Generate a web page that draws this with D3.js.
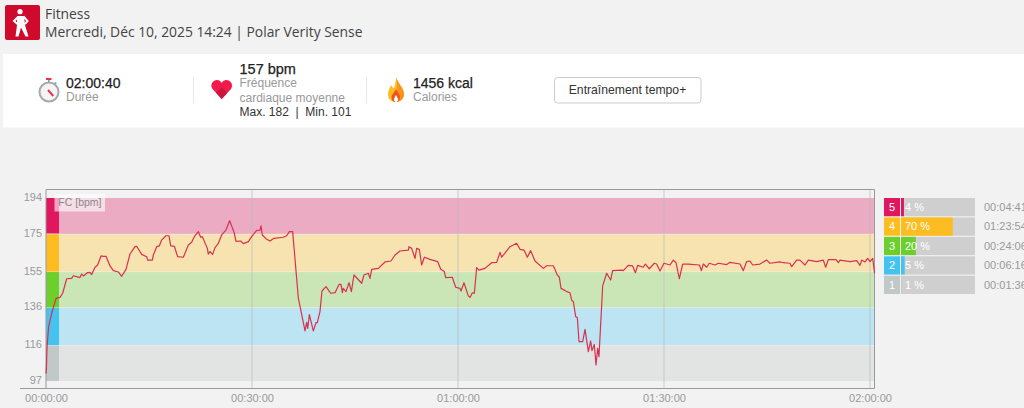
<!DOCTYPE html>
<html lang="fr">
<head>
  <meta charset="UTF-8">
  <title>Fitness</title>
  <script src="https://cdn.jsdelivr.net/npm/d3@7"></script>
  <style>
    html,body {
      margin: 0;
      padding: 0;
      background: #f2f2f2;
      overflow: hidden;
    }
    svg { display: block; }
    text { font-family: "Liberation Sans", Arial, sans-serif; }
    .head { font-family: "Open Sans", sans-serif; font-size: 13.85px; fill: #444; }
    .big { font-size: 14px; fill: #222; stroke: #222; stroke-width: .25px; }
    .bigger { font-size: 14.5px; fill: #222; stroke: #222; stroke-width: .25px; }
    .sub { font-size: 12px; fill: #999; }
    .axis text { font-size: 11px; fill: #999; }
    .axis path, .axis line { display: none; }
  </style>
</head>
<body>
  <div id="stage"></div>
  <script>
    // heart rate, minutes since start / bpm
    const minutes = [0, 0.05, 0.15, 0.39, 0.83, 1.46, 2.04, 2.43, 3.01, 3.74, 3.98, 4.71, 4.95, 5.19, 5.44, 6.02, 6.41, 6.65, 7.14, 7.52, 8.01, 8.35, 8.74, 9.32, 9.81, 10.53, 11.02, 11.65, 12.23, 12.96, 13.2, 13.93, 14.66, 14.81, 15.49, 15.63, 16.12, 16.5, 16.84, 17.48, 17.91, 18.16, 18.69, 19.17, 20, 20.73, 21.21, 21.6, 22.18, 22.52, 22.77, 23.5, 23.64, 23.88, 24.27, 24.61, 25.1, 25.58, 26.21, 26.75, 27.43, 27.67, 28.35, 28.74, 29.47, 29.95, 30.68, 31.17, 31.31, 31.5, 32.14, 32.62, 33.2, 34.56, 35.05, 35.44, 35.92,
      36.75, 37.72, 37.96, 38.11, 38.35, 38.93, 39.32, 39.51, 39.9, 40.19, 40.78, 41.46, 42.09, 42.67, 42.96, 43.16, 43.3, 43.69, 44.13, 44.47, 44.85, 45.97, 46.31, 46.94, 47.18, 47.43, 48.4, 49.37, 50.24, 50.83, 51.55, 52.77, 52.86, 53.25, 53.74, 53.98, 54.37, 54.71, 55.1, 55.92, 57.04, 57.48, 58.01, 58.2, 59.17, 59.66, 60.29, 60.44, 60.87, 61.5, 61.75, 62.09, 62.38, 62.72, 63.06, 63.93, 64.9, 65.63, 66.12, 66.36, 67.57, 68.54, 69.03, 69.61, 70.1, 70.58, 71.21, 72.43, 72.91, 73.88, 74.47, 74.76, 75, 75.83, 76.31, 76.55, 76.8, 77.14, 77.38, 77.62,
      78.16, 78.5, 78.98, 79.32, 79.51, 79.85, 80.1, 80.34, 80.53, 81.07, 81.65, 82.23, 82.52, 83.83, 84.08, 84.8, 85.44, 85.83, 86.17, 86.98, 87.28, 87.86, 88.59, 88.93, 89.42, 90, 90.87, 91.36, 91.75, 92.23, 92.72, 93.54, 95.15, 95.44, 95.73, 96.21, 96.6, 97.43, 97.91, 99.13, 99.61, 101.07, 101.55, 102.04, 102.52, 102.91, 103.97, 104.95, 105.44, 106.89, 107.37, 108.34, 108.59, 109.32, 109.8, 110.53, 111.02, 112.23, 113.2, 113.54, 113.93, 115.05, 115.39, 115.63, 117.09, 118.06, 118.54, 118.79, 119.27, 119.66, 120, 120.39, 120.67];
    const bpm = [101, 102.8, 115.2, 125.8, 132.9, 140.8, 141.3, 143.5, 151.2, 151.4, 152.8, 152.1, 151.8, 153.7, 152.7, 154.4, 154.6, 153.4, 157.3, 158.5, 163.3, 163.1, 163.1, 158, 155.5, 154.8, 152.5, 156.2, 164.3, 168.2, 168.4, 164.1, 162.9, 161.1, 161.1, 163.8, 168.2, 168.6, 171.7, 174, 174, 168.6, 168.4, 162.9, 162.6, 169.1, 170.5, 173.5, 176.2, 173.2, 173.5, 167.3, 164.3, 165.6, 164.1, 167.7, 170, 174.4, 177, 182, 175.3, 171, 171.2, 169.8, 170.9, 173.5, 176.9, 177, 179.2, 174.4, 172.1, 171.2, 172.6, 173.2, 174, 176.2, 176.2,
      140.9, 123.6, 128.1, 124.9, 132.2, 123.6, 127.9, 127.9, 133.8, 144.7, 147, 143.5, 143.8, 148.2, 148.2, 143.8, 146.1, 144.4, 149.1, 144.4, 153.2, 148.8, 153.2, 154.1, 151.4, 156.2, 156.7, 160.1, 160.6, 163.8, 165.9, 166.4, 168.2, 167.3, 162, 167.3, 166.8, 158.5, 162.6, 161.5, 160.3, 156.2, 155, 151.8, 152, 146.7, 146.1, 144.7, 149.1, 142.1, 141.3, 143.8, 143.5, 157.1, 155.8, 156.7, 159.7, 159.9, 165.2, 162.6, 168.2, 170, 166.8, 166.4, 162.6, 166.1, 160.6, 156.7, 158.1, 158.1, 153.2, 152, 146.1, 144.4, 143.8, 139.9, 139, 131.1, 130.7, 117.9,
      117.9, 124.4, 112.6, 118.2, 113.1, 116.3, 105.5, 114.3, 109.9, 147.4, 154.1, 150.5, 155.5, 155.8, 155.5, 158.3, 158, 154.4, 158.3, 157.3, 159, 156.5, 159.4, 159, 155.3, 159.4, 158.5, 161.1, 159.7, 151.2, 159, 159, 158.5, 155.5, 159, 157.3, 159.4, 158.5, 159.4, 158.7, 159.9, 159, 155.5, 160.3, 160.6, 158.5, 159, 161.1, 159.4, 160.1, 159.7, 159.4, 157.6, 161.1, 161.1, 158.5, 161.1, 160.3, 161.1, 157.3, 161.3, 161.3, 159.7, 161.1, 160.3, 160.8, 158.3, 161.1, 160.1, 162, 160.3, 162, 154.1];

    const zoneTicks = [194, 175, 155, 136, 116, 97];
    const timeTicks = [0, 30, 60, 90, 120];
    const timeLabels = ['00:00:00', '00:30:00', '01:00:00', '01:30:00', '02:00:00'];

    const zoneNames = ['5', '4', '3', '2', '1'];
    const zonePercent = [4, 70, 20, 5, 1];
    const zoneTimes = ['00:04:41', '01:23:54', '00:24:06', '00:06:16', '00:01:36'];
    const zoneColors = ['#e0175f', '#fdbd21', '#6dcf2b', '#45c3f0', '#c0c8c8'];
    const zoneBands = ['#ebabc3', '#f6e3b0', '#cae6b6', '#bce4f2', '#e2e4e3'];

    const svg = d3.select('#stage').append('svg').attr('width', 1024).attr('height', 408);

    const x = d3.scaleLinear().domain([0, 120]).range([46, 870]);
    const y = d3.scaleLinear().domain([97, 194]).range([381, 198]);
    const plotLeft = 46, plotRight = 874.5, plotTop = 189.5, plotBottom = 388.5;

    // header
    svg.append('rect').attr('x', 5).attr('y', 5).attr('width', 35).attr('height', 35).attr('rx', 2).attr('fill', '#cf0a2c');
    const man = svg.append('g').attr('fill', '#fff');
    man.append('circle').attr('cx', 20).attr('cy', 11.7).attr('r', 2.6);
    man.append('path').attr('d', 'M17 16 L24 16 L25 25 L28.5 36.5 L25.5 36.5 L21 27.5 L18.5 36.5 L15.5 36.5 L17 25 Z');
    man.append('path').attr('fill', 'none').attr('stroke', '#fff').attr('stroke-width', 2).attr('d', 'M18 17 L14 21 L17.5 24 M23.5 16.5 L27.5 21 L25 24');
    svg.append('text').attr('class', 'head').attr('x', 45).attr('y', 19).text('Fitness');
    svg.append('text').attr('class', 'head').attr('x', 45).attr('y', 37).text('Mercredi, Déc 10, 2025 14:24 | Polar Verity Sense');

    // summary panel
    svg.append('rect').attr('x', 3).attr('y', 54).attr('width', 1021).attr('height', 73.5).attr('fill', '#fff');
    [193, 366].forEach(d => {
      svg.append('line').attr('x1', d + .5).attr('x2', d + .5).attr('y1', 77).attr('y2', 103).attr('stroke', '#e6e6e6');
    });

    // stopwatch
    const watch = svg.append('g');
    watch.append('circle').attr('cx', 49).attr('cy', 92).attr('r', 9.5).attr('fill', '#f4f4f4').attr('stroke', '#a8a8a8').attr('stroke-width', 2);
    watch.append('rect').attr('x', 46).attr('y', 78).attr('width', 5.5).attr('height', 2).attr('fill', '#e8334f');
    watch.append('rect').attr('x', 48).attr('y', 80).attr('width', 1.6).attr('height', 2).attr('fill', '#999');
    watch.append('circle').attr('cx', 55.5).attr('cy', 83).attr('r', 1.1).attr('fill', '#45b5e8');
    watch.append('path').attr('d', 'M48 90 L53.3 96').attr('stroke', '#e8334f').attr('stroke-width', 2);

    // heart
    svg.append('path').attr('fill', '#f2194b').attr('d', 'M221.7 99 L212.5 89 C209.5 84.5 213 80 217 80 C219 80 220.8 81 221.7 83 C222.6 81 224.4 80 226.4 80 C230.4 80 233.9 84.5 231 89 Z');
    svg.append('path').attr('fill', '#c8163f').attr('d', 'M221.7 99 L216 92.8 L221.7 87.5 L227.4 92.8 Z');

    // flame
    svg.append('path').attr('fill', '#fdbd21').attr('d', 'M396 77 C398 84 404 88 404 94 C404 99 400 102 396 102 C391 102 388 99 388 94 C388 90 390 88 391 85 C392 87 393 88 394 88 C395 85 396 81 396 77 Z');
    svg.append('path').attr('fill', '#fb921f').attr('d', 'M396 77 C398 84 404 88 404 94 C404 99 400 102 396 102 C397 95 398 85 396 77 Z');
    svg.append('path').attr('fill', '#f1531f').attr('d', 'M396 89 C397 92 400 94 400 97 C400 100 398 102 396 102 C393 102 391.5 100 391.5 97.5 C391.5 95 394 93 396 89 Z');
    svg.append('path').attr('fill', '#fff').attr('d', 'M396 95 C397 97 398 98 398 99.5 C398 101 397 102 396 102 C395 102 394 101 394 99.5 C394 98 395 97 396 95 Z');

    function stat(xPos, lines) {
      lines.forEach(d => {
        svg.append('text').attr('class', d[2]).attr('x', xPos).attr('y', d[1]).text(d[0]);
      });
    }
    stat(66, [['02:00:40', 88, 'big'], ['Durée', 101, 'sub']]);
    stat(239.5, [['157 bpm', 74, 'bigger'], ['Fréquence', 87, 'sub'], ['cardiaque moyenne', 102, 'sub'], ['Max. 182  |  Min. 101', 116, 'max']]);
    stat(413, [['1456 kcal', 88, 'big'], ['Calories', 101, 'sub']]);
    svg.selectAll('.max').attr('font-size', 12).attr('fill', '#333').style('white-space', 'pre');

    svg.append('rect').attr('x', 554.5).attr('y', 77.5).attr('width', 146.5).attr('height', 25.5).attr('rx', 3).attr('fill', '#fff').attr('stroke', '#ccc');
    svg.append('text').attr('x', 627.5).attr('y', 94).attr('text-anchor', 'middle').attr('font-size', 12.2).attr('fill', '#333').text('Entraînement tempo+');

    // zone bands, drawn from the tick values
    svg.selectAll('.band').data(zoneBands).join('rect')
      .attr('x', plotLeft)
      .attr('width', plotRight - plotLeft)
      .attr('y', (d, i) => y(zoneTicks[i]) + (i ? .5 : 0))
      .attr('height', (d, i) => y(zoneTicks[i + 1]) - y(zoneTicks[i]) - (i ? .5 : 0))
      .attr('fill', d => d);
    svg.selectAll('.strip').data(zoneColors).join('rect')
      .attr('x', plotLeft)
      .attr('width', 13)
      .attr('y', (d, i) => y(zoneTicks[i]) + (i ? .5 : 0))
      .attr('height', (d, i) => y(zoneTicks[i + 1]) - y(zoneTicks[i]) - .5)
      .attr('fill', d => d);

    // gridlines
    svg.selectAll('.grid').data(timeTicks.slice(1)).join('line')
      .attr('x1', d => x(d)).attr('x2', d => x(d))
      .attr('y1', plotTop).attr('y2', plotBottom)
      .attr('stroke', '#bbb').attr('stroke-opacity', .35).attr('stroke-width', 2);

    // frame
    svg.append('path').attr('fill', 'none').attr('stroke', '#999')
      .attr('d', `M${plotLeft} ${plotBottom} V${plotTop} H${plotRight} V${plotBottom}`);
    svg.append('line').attr('x1', 20).attr('x2', plotRight).attr('y1', plotBottom).attr('y2', plotBottom).attr('stroke', '#999');

    // FC label
    svg.append('rect').attr('x', 54.5).attr('y', 194).attr('width', 50.5).attr('height', 17.5).attr('fill', '#fff').attr('fill-opacity', .6);
    svg.append('text').attr('x', 58.3).attr('y', 206).attr('font-size', 10.5).attr('fill', '#888').text('FC [bpm]');

    // axes
    svg.append('g').attr('class', 'axis').attr('transform', `translate(0,${plotBottom})`)
      .call(d3.axisBottom(x).tickValues(timeTicks).tickFormat((d, i) => timeLabels[i]).tickSize(0).tickPadding(6));
    svg.append('g').attr('class', 'axis').attr('transform', `translate(${plotLeft},-1)`)
      .call(d3.axisLeft(y).tickValues(zoneTicks).tickSize(0).tickPadding(4));

    // heart rate line
    const line = d3.line().x((d, i) => x(minutes[i])).y(d => y(d));
    svg.append('path').datum(bpm).attr('d', line).attr('fill', 'none').attr('stroke', '#d9304f').attr('stroke-width', 1.2).attr('stroke-linejoin', 'round');

    // zone legend
    const rowY = d3.scaleBand().domain(zoneNames).range([198, 294]).paddingInner(.06);
    const pct = d3.scaleLinear().domain([0, 100]).range([0, 74]);
    const rows = svg.selectAll('.row').data(zoneNames).join('g').attr('transform', d => `translate(0,${rowY(d)})`);
    rows.append('rect').attr('x', 884).attr('width', 16).attr('height', rowY.bandwidth()).attr('fill', (d, i) => zoneColors[i]);
    rows.append('rect').attr('x', 901).attr('width', 74).attr('height', rowY.bandwidth()).attr('fill', '#cfcfcf');
    rows.append('rect').attr('x', 901).attr('width', (d, i) => pct(zonePercent[i])).attr('height', rowY.bandwidth()).attr('fill', (d, i) => zoneColors[i]);
    rows.append('text').attr('x', 892).attr('y', 13).attr('text-anchor', 'middle').attr('font-size', 11).attr('fill', '#fff').text(d => d);
    rows.append('text').attr('x', 905).attr('y', 13).attr('font-size', 11).attr('fill', '#fff').text((d, i) => zonePercent[i] + ' %');
    rows.append('text').attr('x', 984).attr('y', 13).attr('font-size', 11).attr('fill', '#999').text((d, i) => zoneTimes[i]);
  </script>
</body>
</html>
